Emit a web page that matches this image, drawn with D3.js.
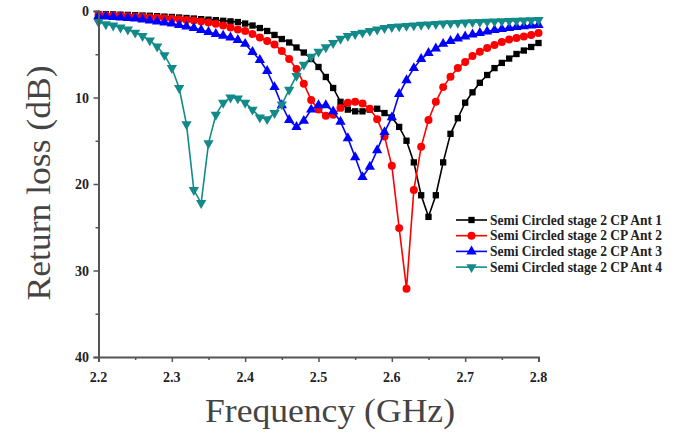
<!DOCTYPE html>
<html lang="en">
<head>
<meta charset="UTF-8">
<title>Return loss</title>
<style>
  body { margin: 0; background: #fff; }
  .tick-label { font-family: "Liberation Serif", "Times New Roman", serif; font-weight: bold; font-size: 14px; fill: #222; }
  .axis-title { font-family: "Liberation Serif", "Times New Roman", serif; font-size: 34px; fill: #444; }
  .legend text { font-family: "Liberation Serif", "Times New Roman", serif; font-weight: bold; font-size: 14px; fill: #222; }
</style>
</head>
<body>
<svg id="chart" width="681" height="437"></svg>
<script src="https://cdn.jsdelivr.net/npm/d3@7"></script>
<script>
  // Frequencies 2.20 .. 2.80 GHz, step 0.01
  const freqs = [2.20,2.21,2.22,2.23,2.24,2.25,2.26,2.27,2.28,2.29,
                 2.30,2.31,2.32,2.33,2.34,2.35,2.36,2.37,2.38,2.39,
                 2.40,2.41,2.42,2.43,2.44,2.45,2.46,2.47,2.48,2.49,
                 2.50,2.51,2.52,2.53,2.54,2.55,2.56,2.57,2.58,2.59,
                 2.60,2.61,2.62,2.63,2.64,2.65,2.66,2.67,2.68,2.69,
                 2.70,2.71,2.72,2.73,2.74,2.75,2.76,2.77,2.78,2.79,2.80];

  const ant1 = [0.35,0.37,0.39,0.42,0.45,0.49,0.52,0.55,0.60,0.65,
                0.69,0.75,0.81,0.87,0.94,1.00,1.06,1.13,1.20,1.28,
                1.45,1.68,1.97,2.31,2.77,3.24,3.64,4.22,4.80,5.55,
                6.47,7.63,8.90,10.5,11.4,11.6,11.6,11.4,11.3,11.8,
                12.3,13.4,15.0,17.5,21.3,23.8,21.3,17.5,14.2,12.4,
                10.6,9.4,8.3,7.4,6.6,6.0,5.5,4.97,4.57,4.16,3.7];

  const ant2 = [0.46,0.50,0.53,0.58,0.61,0.65,0.69,0.74,0.79,0.84,
                0.90,0.96,1.03,1.10,1.21,1.33,1.48,1.68,1.90,2.14,
                2.31,2.66,3.06,3.47,3.87,4.62,5.55,6.70,8.40,10.3,
                11.4,12.1,12.0,11.2,10.6,10.5,10.7,11.3,12.5,14.5,
                17.9,25.1,32.1,20.7,15.7,12.6,10.5,8.8,7.6,6.6,
                5.9,5.2,4.7,4.28,3.93,3.58,3.3,3.12,2.95,2.77,2.54];

  const ant3 = [0.58,0.64,0.69,0.75,0.81,0.87,0.98,1.10,1.21,1.33,
                1.45,1.62,1.80,1.97,2.20,2.43,2.66,2.85,3.06,3.35,
                3.80,4.74,5.66,6.94,8.8,10.9,12.6,13.4,12.7,11.4,
                10.9,10.9,11.6,12.8,14.7,16.9,19.2,18.0,16.1,14.0,
                12.3,9.6,8.0,6.6,5.55,4.86,4.34,3.8,3.47,3.18,
                2.95,2.72,2.54,2.37,2.2,2.08,1.97,1.85,1.77,1.68,1.62];

  const ant4 = [1.27,1.54,1.68,1.90,2.14,2.50,2.90,3.40,4.10,5.10,
                6.60,8.90,13.1,20.7,22.2,15.3,12.0,10.6,10.0,10.1,
                10.6,11.4,12.3,12.5,11.8,10.8,9.1,7.5,6.2,5.3,
                4.7,4.2,3.7,3.2,2.9,2.66,2.5,2.3,2.14,1.97,
                1.85,1.78,1.72,1.66,1.60,1.55,1.50,1.45,1.41,1.37,
                1.33,1.29,1.26,1.23,1.20,1.17,1.14,1.12,1.09,1.07,1.05];

  const xTicks = [2.2, 2.3, 2.4, 2.5, 2.6, 2.7, 2.8];
  const yTicks = [0, 10, 20, 30, 40];
  const names = ['Semi Circled stage 2 CP Ant 1', 'Semi Circled stage 2 CP Ant 2',
                 'Semi Circled stage 2 CP Ant 3', 'Semi Circled stage 2 CP Ant 4'];

  const series = [
    { name: names[0], values: ant1, color: '#000000', symbol: d3.symbolSquare, size: 40, rot: 0 },
    { name: names[1], values: ant2, color: '#ff0000', symbol: d3.symbolCircle, size: 50, rot: 0 },
    { name: names[2], values: ant3, color: '#0000ff', symbol: d3.symbolTriangle, size: 46, rot: 0 },
    { name: names[3], values: ant4, color: '#138a8a', symbol: d3.symbolTriangle, size: 46, rot: 180 }
  ];

  const svg = d3.select('#chart');

  const x = d3.scaleLinear().domain([2.2, 2.8]).range([98.5, 538.5]);
  const y = d3.scaleLinear().domain([0, 40]).range([11, 357]);

  // Curves
  const line = d3.line().x((d, i) => x(freqs[i])).y(d => y(d));

  series.forEach(s => {
    svg.append('path')
      .datum(s.values)
      .attr('fill', 'none')
      .attr('stroke', s.color)
      .attr('stroke-width', 1.6)
      .attr('d', line);

    svg.append('g').selectAll('path')
      .data(s.values)
      .enter().append('path')
      .attr('d', d3.symbol().type(s.symbol).size(s.size))
      .attr('fill', s.color)
      .attr('transform', (d, i) => `translate(${x(freqs[i])},${y(d)}) rotate(${s.rot})`);
  });

  // Axes
  const axisColor = '#555';

  const xAxis = svg.append('g')
    .attr('transform', `translate(0,${y(40)})`)
    .call(d3.axisBottom(x).tickValues(d3.range(2.2, 2.8001, 0.05)).tickSize(5).tickFormat(''));
  xAxis.select('.domain').attr('stroke', axisColor).attr('stroke-width', 2);
  xAxis.selectAll('.tick line').attr('stroke', axisColor).attr('stroke-width', 1.5)
    .attr('y2', (d, i) => i % 2 === 0 ? 5 : 3);

  const yAxis = svg.append('g')
    .attr('transform', `translate(${x(2.2)},0)`)
    .call(d3.axisLeft(y).tickValues(d3.range(0, 40.001, 5)).tickSize(5).tickFormat(''));
  yAxis.select('.domain').attr('stroke', axisColor).attr('stroke-width', 2);
  yAxis.selectAll('.tick line').attr('stroke', axisColor).attr('stroke-width', 1.5)
    .attr('x2', (d, i) => i % 2 === 0 ? -5 : -3);

  // Tick labels
  svg.append('g').selectAll('text')
    .data(xTicks)
    .enter().append('text')
    .attr('class', 'tick-label')
    .attr('x', d => x(d))
    .attr('y', 382)
    .attr('text-anchor', 'middle')
    .text(d => d.toFixed(1));

  svg.append('g').selectAll('text')
    .data(yTicks)
    .enter().append('text')
    .attr('class', 'tick-label')
    .attr('x', 89)
    .attr('y', d => y(d) + 5)
    .attr('text-anchor', 'end')
    .text(d => d);

  // Axis titles
  svg.append('text')
    .attr('class', 'axis-title')
    .attr('x', 330)
    .attr('y', 422)
    .attr('text-anchor', 'middle')
    .attr('textLength', 250)
    .attr('lengthAdjust', 'spacingAndGlyphs')
    .text('Frequency (GHz)');

  svg.append('text')
    .attr('class', 'axis-title')
    .attr('transform', 'translate(50,183) rotate(-90)')
    .attr('text-anchor', 'middle')
    .attr('textLength', 235)
    .attr('lengthAdjust', 'spacingAndGlyphs')
    .text('Return loss (dB)');

  // Legend
  const legend = svg.append('g').attr('class', 'legend');
  series.forEach((s, i) => {
    const ly = 220 + i * 15.7;
    legend.append('line')
      .attr('x1', 456).attr('x2', 487)
      .attr('y1', ly).attr('y2', ly)
      .attr('stroke', s.color).attr('stroke-width', 1.6);
    legend.append('path')
      .attr('d', d3.symbol().type(s.symbol).size(s.size))
      .attr('fill', s.color)
      .attr('transform', `translate(471.5,${ly}) rotate(${s.rot})`);
    legend.append('text')
      .attr('x', 490)
      .attr('y', ly + 4.5)
      .attr('textLength', 172)
      .attr('lengthAdjust', 'spacingAndGlyphs')
      .text(s.name);
  });
</script>
</body>
</html>
